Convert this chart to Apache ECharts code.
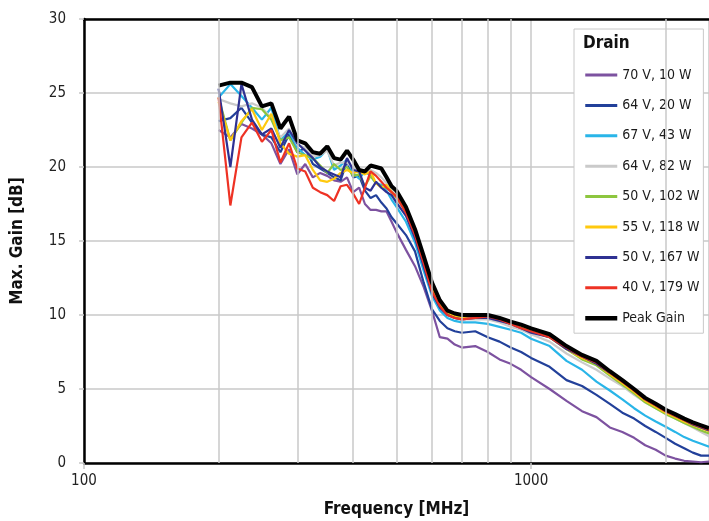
<!DOCTYPE html>
<html>
<head>
<meta charset="utf-8">
<script src="https://cdn.jsdelivr.net/npm/echarts@6/dist/echarts.min.js"></script>
<style>
  html, body { margin: 0; background: #fff; }
  #chart { width: 709px; height: 521px; }
</style>
</head>
<body>
<div id="chart"></div>
<script>
// frequency points [MHz]
const freqMHz = [200, 212.5, 225, 237.5, 250, 262.5, 275, 287.5, 300, 312.5, 325, 337.5, 350, 362.5, 375, 387.5,
  400, 412.5, 425, 437.5, 450, 462.5, 475, 487.5, 500, 525, 550, 575, 600, 625, 650, 675, 700,
  750, 800, 850, 900, 950, 1000, 1100, 1200, 1300, 1400, 1500, 1600, 1700, 1800, 1900, 2000,
  2100, 2200, 2300, 2400, 2500]

// max. gain [dB] per drain condition
const gain70V10W = [22.5, 22.0, 22.9, 22.6, 22.2, 21.6, 20.2, 21.2, 19.5, 20.2, 19.3, 19.6, 19.4, 19.1, 19.0, 19.3,
  18.3, 18.6, 17.5, 17.1, 17.1, 17.0, 17.0, 16.3, 15.6, 14.4, 13.3, 11.9, 10.3, 8.5, 8.4, 8.0, 7.8,
  7.9, 7.5, 7.0, 6.7, 6.3, 5.8, 5.0, 4.2, 3.5, 3.1, 2.4, 2.1, 1.7, 1.2, 0.9, 0.5,
  0.3, 0.15, 0.1, 0.05, 0.1]
const gain64V20W = [23.1, 23.3, 24.0, 23.0, 22.2, 22.0, 21.0, 22.2, 21.0, 21.3, 20.2, 19.9, 19.6, 19.3, 19.1, 20.4,
  19.3, 19.4, 18.4, 17.9, 18.1, 17.6, 17.2, 16.6, 16.2, 15.4, 14.3, 12.2, 10.4, 9.6, 9.1, 8.9, 8.8,
  8.9, 8.5, 8.2, 7.8, 7.5, 7.1, 6.5, 5.6, 5.2, 4.6, 4.0, 3.4, 3.0, 2.5, 2.1, 1.7,
  1.3, 1.0, 0.7, 0.5, 0.5]
const gain67V43W = [24.7, 25.6, 24.8, 24.0, 23.2, 24.0, 21.8, 22.4, 21.3, 20.8, 20.5, 20.7, 21.2, 19.8, 20.1, 20.5,
  19.6, 19.2, 19.7, 19.4, 18.9, 18.8, 18.4, 17.8, 17.3, 16.3, 14.9, 13.0, 11.3, 10.3, 9.8, 9.6, 9.5,
  9.5, 9.4, 9.2, 9.0, 8.8, 8.4, 7.9, 6.9, 6.3, 5.5, 4.9, 4.3, 3.7, 3.2, 2.8, 2.45,
  2.1, 1.75, 1.5, 1.3, 1.1]
const gain64V82W = [24.6, 24.3, 24.1, 24.3, 24.0, 23.3, 22.0, 22.6, 21.5, 21.3, 20.7, 20.8, 21.1, 20.1, 20.3, 20.3,
  19.9, 19.8, 19.6, 19.8, 19.6, 19.3, 18.9, 18.4, 18.1, 16.9, 15.5, 13.5, 11.7, 10.6, 10.1, 9.8, 9.7,
  9.7, 9.7, 9.5, 9.2, 9.0, 8.7, 8.2, 7.4, 6.8, 6.3, 5.7, 5.2, 4.6, 4.1, 3.7, 3.4,
  3.0, 2.7, 2.4, 2.1, 1.8]
const gain50V102W = [24.7, 21.8, 23.0, 24.0, 23.9, 23.2, 21.8, 22.0, 21.0, 20.8, 20.6, 20.1, 19.6, 20.2, 19.8, 20.0,
  19.4, 19.5, 18.7, 19.4, 18.9, 18.7, 18.6, 18.3, 17.9, 17.0, 15.6, 13.8, 11.9, 10.8, 10.2, 9.9, 9.8,
  9.9, 9.9, 9.7, 9.4, 9.2, 8.9, 8.5, 7.7, 7.0, 6.6, 5.9, 5.3, 4.7, 4.1, 3.7, 3.3,
  3.0, 2.7, 2.45, 2.2, 2.0]
const gain55V118W = [24.4, 21.8, 23.1, 23.9, 22.5, 23.6, 21.6, 20.9, 20.7, 20.8, 19.8, 19.1, 19.0, 19.2, 19.6, 19.8,
  19.6, 19.7, 19.5, 19.7, 18.9, 18.6, 18.8, 18.3, 18.0, 17.0, 15.6, 13.7, 11.8, 10.8, 10.2, 9.9, 9.8,
  9.8, 9.9, 9.7, 9.4, 9.2, 8.9, 8.5, 7.7, 7.1, 6.7, 6.0, 5.4, 4.8, 4.2, 3.8, 3.4,
  3.1, 2.8, 2.55, 2.35, 2.15]
const gain50V167W = [25.3, 20.0, 25.6, 23.2, 22.2, 22.6, 21.3, 22.5, 21.6, 21.1, 20.6, 20.0, 19.7, 19.5, 19.3, 20.6,
  19.8, 19.7, 18.6, 18.4, 19.0, 18.6, 18.3, 18.1, 17.6, 16.7, 15.2, 13.3, 11.5, 10.5, 10.0, 9.8, 9.7,
  9.8, 9.8, 9.6, 9.4, 9.1, 8.8, 8.5, 7.7, 7.2, 6.7, 6.1, 5.5, 4.9, 4.3, 3.9, 3.5,
  3.2, 2.9, 2.6, 2.4, 2.2]
const gain40V179W = [24.7, 17.4, 22.0, 23.0, 21.7, 22.5, 20.3, 21.6, 19.9, 19.7, 18.6, 18.3, 18.1, 17.7, 18.7, 18.8,
  18.2, 17.5, 18.6, 19.7, 19.4, 19.0, 18.6, 18.3, 18.0, 16.9, 15.4, 13.5, 11.6, 10.6, 10.0, 9.8, 9.7,
  9.8, 9.9, 9.7, 9.4, 9.1, 8.9, 8.5, 7.8, 7.2, 6.8, 6.1, 5.5, 4.9, 4.3, 3.9, 3.5,
  3.2, 2.9, 2.65, 2.45, 2.25]
const peakGain = [25.5, 25.7, 25.7, 25.4, 24.1, 24.3, 22.6, 23.4, 21.8, 21.6, 21.0, 20.9, 21.4, 20.6, 20.5, 21.1,
  20.5, 19.8, 19.7, 20.1, 20.0, 19.9, 19.3, 18.7, 18.4, 17.3, 15.8, 14.0, 12.2, 11.0, 10.3, 10.1, 10.0,
  10.0, 10.0, 9.8, 9.55, 9.35, 9.1, 8.7, 7.9, 7.3, 6.9, 6.2, 5.6, 5.0, 4.4, 4.0, 3.6,
  3.3, 3.0, 2.75, 2.55, 2.35]

// minor vertical grid lines of the log axis
const minorGridMHz = [200, 300, 400, 500, 600, 700, 800, 900, 2000]

const FONT = "'DejaVu Sans Condensed', 'DejaVu Sans', sans-serif"

const seriesDefs = [
  { name: '70 V, 10 W', values: gain70V10W, color: '#7d52a0', width: 2.2 },
  { name: '64 V, 20 W', values: gain64V20W, color: '#22409a', width: 2.2 },
  { name: '67 V, 43 W', values: gain67V43W, color: '#29b5e8', width: 2.2 },
  { name: '64 V, 82 W', values: gain64V82W, color: '#cacaca', width: 2.2 },
  { name: '50 V, 102 W', values: gain50V102W, color: '#8dc63f', width: 2.2 },
  { name: '55 V, 118 W', values: gain55V118W, color: '#ffc90e', width: 2.2 },
  { name: '50 V, 167 W', values: gain50V167W, color: '#2e3192', width: 2.2 },
  { name: '40 V, 179 W', values: gain40V179W, color: '#ee3224', width: 2.2 },
  { name: 'Peak Gain', values: peakGain, color: '#000000', width: 4 }
]

const chart = echarts.init(document.getElementById('chart'))

const series = seriesDefs.map(s => ({
  type: 'line',
  name: s.name,
  data: freqMHz.map((f, i) => [f, s.values[i]]),
  symbol: 'none',
  lineStyle: { color: s.color, width: s.width },
  itemStyle: { color: s.color },
  animation: false
}))

// carrier for the minor grid lines
series.unshift({
  type: 'line',
  name: 'minor-grid',
  data: [],
  silent: true,
  z: 1,
  markLine: {
    silent: true,
    symbol: 'none',
    label: { show: false },
    lineStyle: { color: '#c8c8c8', width: 1.5, type: 'solid' },
    data: minorGridMHz.map(f => ({ xAxis: f }))
  }
})

chart.setOption({
  animation: false,
  textStyle: { fontFamily: FONT },
  grid: { left: 84, right: 0, top: 19, bottom: 58, containLabel: false, outerBoundsMode: 'none' },
  title: {
    text: 'Drain',
    left: 583,
    top: 35,
    padding: 0,
    z: 10,
    textStyle: { fontFamily: FONT, fontSize: 17, fontWeight: 'bold', color: '#111' }
  },
  legend: {
    data: seriesDefs.map(s => ({
      name: s.name,
      lineStyle: { width: s.width > 3 ? 4.5 : 3 }
    })),
    orient: 'vertical',
    left: 574,
    top: 29,
    padding: [39, 4, 8, 9],
    itemWidth: 32,
    itemHeight: 14,
    itemGap: 16.4,
    selectedMode: false,
    backgroundColor: '#fff',
    borderColor: '#c8c8c8',
    borderWidth: 1,
    itemStyle: { opacity: 0 },
    textStyle: { fontFamily: FONT, fontSize: 14, color: '#1a1a1a' }
  },
  xAxis: [{
    type: 'log',
    logBase: 10,
    min: 100,
    max: 2500,
    name: 'Frequency [MHz]',
    nameLocation: 'middle',
    nameGap: 38,
    nameTextStyle: { fontFamily: FONT, fontSize: 17, fontWeight: 'bold', color: '#111' },
    axisLine: { lineStyle: { color: '#000', width: 2.5 } },
    axisTick: { show: true, length: 6, lineStyle: { color: '#c8c8c8', width: 1.5 } },
    axisLabel: {
      fontFamily: FONT, fontSize: 15, color: '#222', margin: 11,
      showMaxLabel: false,
      formatter: v => String(Math.round(v))
    },
    splitLine: { show: true, lineStyle: { color: '#c8c8c8', width: 1.5 } }
  }, {
    type: 'log',
    logBase: 10,
    min: 100,
    max: 2500,
    position: 'top',
    axisLine: { lineStyle: { color: '#000', width: 2.5 } },
    axisTick: { show: false },
    axisLabel: { show: false },
    splitLine: { show: false }
  }],
  yAxis: {
    type: 'value',
    min: 0,
    max: 30,
    interval: 5,
    name: 'Max. Gain [dB]',
    nameLocation: 'middle',
    nameGap: 58,
    nameTextStyle: { fontFamily: FONT, fontSize: 17, fontWeight: 'bold', color: '#111' },
    axisLine: { show: true, lineStyle: { color: '#000', width: 2.5 } },
    axisTick: { show: true, length: 5, lineStyle: { color: '#c8c8c8', width: 1.5 } },
    axisLabel: { fontFamily: FONT, fontSize: 15, color: '#222', margin: 18 },
    splitLine: { show: true, lineStyle: { color: '#c8c8c8', width: 1.5 } }
  },
  series: series
})
</script>
</body>
</html>
